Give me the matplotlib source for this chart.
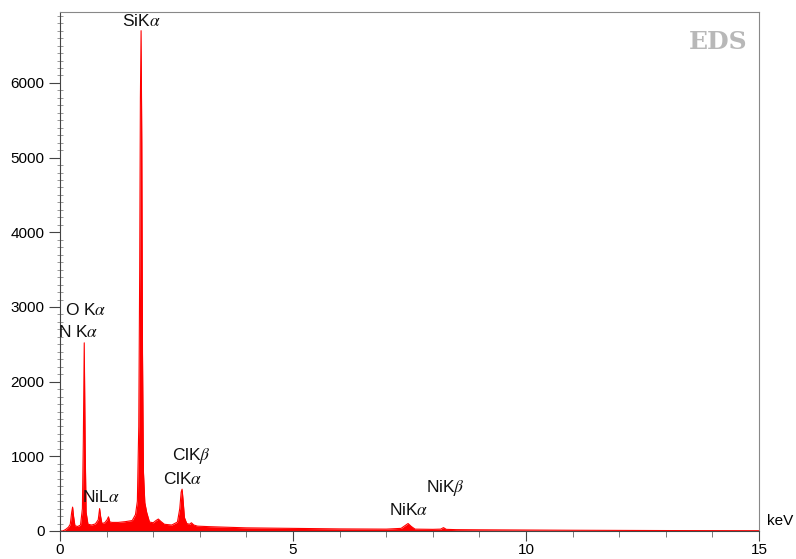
import matplotlib
matplotlib.use("Agg")
import matplotlib.pyplot as plt
from matplotlib.ticker import MultipleLocator

plt.rcParams['font.family'] = ['Liberation Sans', 'DejaVu Sans']
plt.rcParams['mathtext.fontset'] = 'stix'

# spectrum (energy in keV, counts)
energy = [0.00, 0.06, 0.12, 0.18, 0.22, 0.25, 0.27, 0.29, 0.32, 0.38, 0.44, 0.48,
          0.50, 0.52, 0.54, 0.56, 0.60, 0.68, 0.76, 0.82, 0.85, 0.87, 0.90, 0.96,
          1.01, 1.04, 1.07, 1.12, 1.25, 1.40, 1.55, 1.62, 1.66, 1.69, 1.71, 1.725,
          1.74, 1.755, 1.77, 1.79, 1.82, 1.86, 1.92, 2.00, 2.06, 2.11, 2.16, 2.24,
          2.40, 2.52, 2.57, 2.60, 2.62, 2.64, 2.67, 2.72, 2.78, 2.82, 2.87, 2.95,
          3.20, 3.60, 4.00, 5.00, 6.00, 7.00, 7.32, 7.40, 7.47, 7.54, 7.62, 8.00,
          8.17, 8.23, 8.29, 8.50, 9.00, 10.0, 11.0, 12.0, 13.0, 14.0, 15.0]
counts = [0, 0, 20, 50, 90, 250, 320, 200, 70, 60, 80, 300,
          1200, 2520, 1100, 250, 90, 80, 95, 150, 300, 200, 100, 110,
          150, 190, 120, 115, 115, 125, 140, 220, 400, 1400, 3500, 5800,
          6700, 5200, 2400, 800, 380, 250, 120, 110, 140, 160, 130, 90,
          80, 120, 300, 520, 560, 420, 180, 100, 90, 110, 80, 65,
          58, 50, 42, 35, 28, 25, 35, 70, 100, 60, 25, 22,
          25, 45, 22, 18, 16, 13, 10, 8, 6, 5, 4]

peak_labels = [r'SiK$\alpha$', r'O K$\alpha$', r'N K$\alpha$', r'NiL$\alpha$',
               r'ClK$\beta$', r'ClK$\alpha$', r'NiK$\alpha$', r'NiK$\beta$']
label_x = [1.74, 0.11, -0.04, 0.47, 2.40, 2.21, 7.06, 7.85]
label_y = [6830, 2960, 2660, 460, 1000, 690, 285, 580]
label_ha = ['center', 'left', 'left', 'left', 'left', 'left', 'left', 'left']

fig = plt.figure(figsize=(7.96, 5.59), dpi=100)
ax = fig.add_axes([0.0754, 0.0501, 0.878, 0.9284])

ax.fill_between(energy, counts, 0, color='#ff0000', lw=0)
ax.plot(energy, counts, color='#ff0000', lw=0.8)

ax.set_xlim(0, 15)
ax.set_ylim(0, 6950)
ax.xaxis.set_major_locator(MultipleLocator(5))
ax.xaxis.set_minor_locator(MultipleLocator(1))
ax.yaxis.set_major_locator(MultipleLocator(1000))
ax.yaxis.set_minor_locator(MultipleLocator(100))
ax.tick_params(axis='both', which='major', labelsize=11, color='#444444',
               direction='out')
ax.tick_params(axis='x', which='major', length=7.5, pad=1)
ax.tick_params(axis='y', which='major', length=8, pad=3)
ax.tick_params(axis='x', which='minor', length=4, direction='out', color='#666666')
ax.tick_params(axis='y', which='minor', length=5, direction='inout', color='#888888')

for s in ['left', 'bottom']:
    ax.spines[s].set_color('#444444')
for s in ['top', 'right']:
    ax.spines[s].set_color('#888888')

for lab, x, y, ha in zip(peak_labels, label_x, label_y, label_ha):
    ax.text(x, y, lab, ha=ha, va='center', fontsize=12.5, color='#111111')

ax.text(1.012, 0.02, 'keV', transform=ax.transAxes, ha='left', va='center', fontsize=11)
ax.text(0.983, 0.942, 'EDS', transform=ax.transAxes, ha='right', va='center',
        fontsize=18, fontweight='bold', family='DejaVu Serif', color='#b8b8b8')

fig.savefig('out.png', dpi=100)
